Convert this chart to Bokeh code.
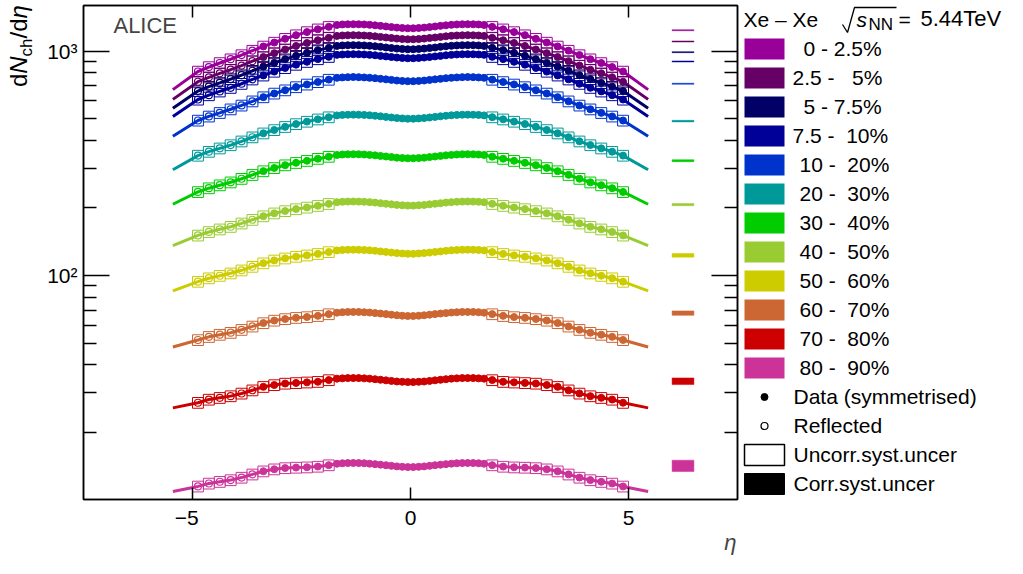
import numpy as np
from bokeh.plotting import figure
from bokeh.models import Range1d, FixedTicker, LinearAxis, LogAxis, Label, Title, CustomJSTickFormatter
from bokeh.layouts import row
from bokeh.core.properties import value
from bokeh.embed import file_html
from bokeh.resources import INLINE

FONT = "Liberation Sans"

# ---------------- data ----------------
centralities = ["0 - 2.5%", "2.5 -\u00a0\u00a0 5%", "5 - 7.5%", "7.5 -\u00a0 10%", "10 -\u00a0 20%",
                "20 -\u00a0 30%", "30 -\u00a0 40%", "40 -\u00a0 50%", "50 -\u00a0 60%", "60 -\u00a0 70%",
                "70 -\u00a0 80%", "80 -\u00a0 90%"]
colors = ["#990099", "#660066", "#000066", "#000099", "#0033CC", "#009999",
          "#00CC00", "#99CC33", "#CCCC00", "#CC6633", "#CC0000", "#CC3399"]

# positive-eta half; negative side is the symmetrised mirror
eta_mid = [0.0625, 0.1875, 0.3125, 0.4375, 0.5625, 0.6875, 0.8125, 0.9375,
           1.0625, 1.1875, 1.3125, 1.4375, 1.5625, 1.6875]
eta_fwd = [1.875, 2.125, 2.375, 2.625, 2.875, 3.125, 3.375, 3.625,
           3.875, 4.125, 4.375, 4.625, 4.875]
eta_fit_end = 5.45
eta_reflect_from = 3.5   # |eta| beyond this on the negative side is reflected
bin_half_width = 0.125

mid_vals = [
    [1265, 1269, 1274, 1281, 1289, 1297, 1304, 1311, 1316, 1318, 1319, 1318, 1316, 1309],
    [1130, 1133, 1138, 1145, 1151, 1158, 1165, 1171, 1175, 1177, 1179, 1177, 1175, 1170],
    [1020, 1023, 1027, 1033, 1039, 1046, 1052, 1057, 1061, 1063, 1064, 1063, 1061, 1056],
    [930, 933, 937, 942, 948, 953, 959, 963, 967, 969, 970, 969, 967, 963],
    [735, 737, 740, 745, 749, 753, 758, 761, 764, 766, 767, 766, 764, 761],
    [500, 501.5, 503.5, 506.5, 509.5, 512.5, 515.5, 518, 520, 521, 521.5, 521, 520, 517.5],
    [333, 334, 335.3, 337.3, 339.3, 341.3, 343.3, 345, 346.3, 347, 347.3, 347, 346.3, 344.7],
    [205, 205.6, 206.4, 207.7, 208.9, 210.1, 211.4, 212.4, 213.2, 213.6, 213.8, 213.6, 213.2, 212.2],
    [125, 125.4, 125.9, 126.6, 127.4, 128.1, 128.9, 129.5, 130, 130.3, 130.4, 130.3, 130, 129.4],
    [66, 66.2, 66.5, 66.9, 67.3, 67.7, 68.0, 68.4, 68.6, 68.8, 68.8, 68.8, 68.6, 68.3],
    [33.5, 33.6, 33.7, 33.9, 34.1, 34.3, 34.5, 34.7, 34.8, 34.9, 34.9, 34.9, 34.8, 34.7],
    [14.0, 14.04, 14.1, 14.18, 14.27, 14.35, 14.43, 14.5, 14.56, 14.59, 14.6, 14.59, 14.56, 14.49],
]
fwd_vals = [
    [1284, 1252, 1217, 1179, 1136, 1093, 1050, 1006, 961, 921, 886, 850, 812],
    [1147, 1119, 1088, 1055, 1018, 980, 942, 903, 863, 827, 797, 765, 731],
    [1035, 1011, 983, 954, 921, 887, 854, 818, 782, 751, 722, 695, 664],
    [944, 922, 897, 871, 842, 811, 780, 749, 716, 687, 662, 637, 609],
    [747, 729, 711, 692, 670, 648, 624, 598, 573, 551, 531, 512, 491],
    [508, 497, 485.5, 473.5, 460, 445.5, 430.5, 413.5, 396.5, 381.5, 369, 356.5, 342.5],
    [338.7, 331.7, 324.7, 318, 310.4, 301.7, 292, 281.1, 270.1, 260.4, 252.7, 245.1, 235.8],
    [208.7, 204.6, 201.1, 197.8, 193.9, 189.4, 183.9, 177.3, 170.8, 165.0, 160.7, 156.4, 150.9],
    [127.3, 124.9, 123, 121.4, 119.3, 116.8, 113.5, 109.5, 105.5, 102.3, 99.8, 97.3, 93.9],
    [67.3, 66.1, 65.3, 64.8, 64.0, 63.0, 61.4, 59.3, 57.3, 55.6, 54.5, 53.3, 51.6],
    [34.2, 33.6, 33.4, 33.2, 33.0, 32.5, 31.9, 30.8, 29.8, 29.0, 28.5, 28.0, 27.1],
    [14.28, 14.07, 13.97, 13.93, 13.86, 13.69, 13.41, 12.99, 12.57, 12.25, 12.04, 11.83, 11.48],
]
fit_end_vals = [674, 610, 557, 512, 418, 296, 207.8, 135.9, 85.5, 48.0, 25.7, 10.9]
uncorr_frac = [0.055] * 12
corr_center = [1240, 1105, 990, 900, 716, 488, 325, 207, 123, 68, 33.8, 14.2]
corr_frac = [0.005, 0.005, 0.005, 0.005, 0.005, 0.008, 0.01, 0.011, 0.018, 0.023, 0.034, 0.058]
corr_eta_lo, corr_eta_hi = 6.0, 6.5

y_major = [100, 1000]
y_minor = [20, 30, 40, 50, 60, 70, 80, 90, 200, 300, 400, 500, 600, 700, 800, 900]
x_major = [-5, 0, 5]

# ------------- layout (screenshot pixels) -------------
X0_PX, X_SCALE = 409.5, 43.667      # eta = 0 position, px per unit eta
Y3_PX, DEC_PX = 50.7, 224.33        # y of 10^3, px per decade
FRAME_TOP, FRAME_BOTTOM = 5, 499
FIG_H = 560
B_TOP = FRAME_TOP
B_BOTTOM = FIG_H - FRAME_BOTTOM
W_YT, W_MAIN, W_LG = 44, 697, 270
BASE_K = 0.4   # empirical baseline correction (fraction of font size) for svg text


def px_x(sx):
    return (sx - X0_PX) / X_SCALE


def px_y(sy):
    return 10 ** (3 + (Y3_PX - sy) / DEC_PX)


def bl(y, size):
    return y - BASE_K * size


def bare(fig):
    fig.grid.visible = False
    fig.outline_line_color = None
    fig.background_fill_color = "white"
    fig.border_fill_color = "white"


# ---- y-title figure (left strip) ----
yt = figure(width=W_YT, height=FIG_H, x_range=Range1d(0, W_YT), y_range=Range1d(FRAME_BOTTOM, FRAME_TOP),
            output_backend="svg", toolbar_location=None, min_border_left=0, min_border_right=0,
            min_border_top=B_TOP, min_border_bottom=B_BOTTOM, x_axis_location=None, y_axis_location=None)
bare(yt)
ytitle = [("d", "normal", 24, 0, 13.3), ("N", "italic", 24, 0, 17.3), ("ch", "normal", 17, 5, 18.0),
          ("/", "normal", 24, 0, 6.7), ("d", "normal", 24, 0, 13.3), ("\u03b7", "italic", 24, 0, 13.3)]
ys = 86.5
for txt, st, sz, dx, adv in ytitle:
    yt.text(x=[bl(28 + dx, sz)], y=[ys], text=[txt], angle=np.pi / 2, text_font=value(FONT),
            text_font_style=st, text_font_size=f"{sz}px", text_baseline="alphabetic", text_align="left")
    ys -= adv

# ---- main figure ----
p = figure(width=W_MAIN, height=FIG_H, x_range=Range1d(-7.5, 7.5),
           y_range=Range1d(px_y(FRAME_BOTTOM), px_y(FRAME_TOP)), y_axis_type="log",
           output_backend="svg", toolbar_location=None,
           min_border_left=82 - W_YT, min_border_right=W_YT + W_MAIN - 737,
           min_border_top=B_TOP, min_border_bottom=B_BOTTOM)
p.xgrid.visible = False
p.ygrid.visible = False
p.outline_line_color = "black"
p.outline_line_width = 1.5
p.background_fill_color = "white"
p.border_fill_color = "white"

ylab_fmt = CustomJSTickFormatter(code="""
if (Math.abs(tick - 100) < 1e-6) return '10\u00b2';
if (Math.abs(tick - 1000) < 1e-6) return '10\u00b3';
return '';
""")
xlab_fmt = CustomJSTickFormatter(code="""
if (tick < 0) return '\u2212' + Math.abs(tick) + '\u00a0\u00a0';
return String(tick);
""")
blank_fmt = CustomJSTickFormatter(code="return '';")


def style_axis(ax, major_in, minor_in, labels=True):
    ax.major_tick_in = major_in
    ax.major_tick_out = 0
    ax.minor_tick_in = minor_in
    ax.minor_tick_out = 0
    ax.axis_line_color = "black"
    ax.axis_line_width = 1.5
    ax.major_tick_line_width = 1.5
    ax.minor_tick_line_width = 1.5
    ax.major_tick_line_color = "black"
    ax.minor_tick_line_color = "black"
    if labels:
        ax.major_label_text_font = FONT
        ax.major_label_text_font_size = "21px"
        ax.major_label_text_color = "black"
    else:
        ax.major_label_text_font_size = "0px"
        ax.major_label_standoff = 0


yax = p.yaxis[0]
yax.ticker = FixedTicker(ticks=y_major, minor_ticks=y_minor)
yax.formatter = ylab_fmt
style_axis(yax, 26, 13)
yax.major_label_standoff = 6

xax = p.xaxis[0]
xax.ticker = FixedTicker(ticks=x_major, minor_ticks=[])
xax.formatter = xlab_fmt
style_axis(xax, 12, 0)
xax.major_label_standoff = 6

rax = LogAxis(ticker=FixedTicker(ticks=y_major, minor_ticks=y_minor), formatter=blank_fmt)
style_axis(rax, 26, 13, labels=False)
p.add_layout(rax, "right")

tax = LinearAxis(ticker=FixedTicker(ticks=x_major, minor_ticks=[]), formatter=blank_fmt)
style_axis(tax, 12, 0, labels=False)
p.add_layout(tax, "above")

p.add_layout(Title(text="\u03b7", align="right", text_font=FONT, text_font_style="italic",
                   text_font_size="22px", offset=1, standoff=-8), "below")

# ------------- data drawing -------------
for i in range(len(centralities)):
    col = colors[i]
    mv, fv, ev = mid_vals[i], fwd_vals[i], fit_end_vals[i]
    neg_fwd_x = [-e for e in eta_fwd[::-1]]
    neg_fwd_y = fv[::-1]
    neg_mid_x = [-e for e in eta_mid[::-1]]
    neg_mid_y = mv[::-1]

    # uncorrelated systematic boxes
    bx = neg_fwd_x + eta_fwd
    by = neg_fwd_y + fv
    f = uncorr_frac[i]
    p.quad(left=[x - bin_half_width for x in bx], right=[x + bin_half_width for x in bx],
           bottom=[y * (1 - f) for y in by], top=[y * (1 + f) for y in by],
           fill_color=None, line_color=col, line_width=1)

    # fit curve
    lx = [-eta_fit_end] + neg_fwd_x + neg_mid_x + eta_mid + eta_fwd + [eta_fit_end]
    ly = [ev] + neg_fwd_y + neg_mid_y + mv + fv + [ev]
    p.line(lx, ly, line_color=col, line_width=3)

    # symmetrised data (filled)
    fx = [x for x in neg_fwd_x if -x <= eta_reflect_from] + neg_mid_x + eta_mid + eta_fwd
    fy = [y for x, y in zip(neg_fwd_x, neg_fwd_y) if -x <= eta_reflect_from] + neg_mid_y + mv + fv
    p.scatter(fx, fy, marker="circle", size=7, fill_color=col, line_color=col)

    # reflected (open)
    rx = [x for x in neg_fwd_x if -x > eta_reflect_from]
    ry = [y for x, y in zip(neg_fwd_x, neg_fwd_y) if -x > eta_reflect_from]
    p.scatter(rx, ry, marker="circle", size=7, fill_color=None, line_color=col, line_width=1.2)

    # correlated systematic
    g = corr_frac[i]
    c = corr_center[i]
    p.quad(left=[corr_eta_lo], right=[corr_eta_hi], bottom=[c * (1 - g)], top=[c * (1 + g)],
           fill_color=col, line_color=col, line_width=0.5)

p.add_layout(Label(x=px_x(112), y=px_y(bl(33.3, 22)), text="ALICE", text_font=FONT,
                   text_font_size="22px", text_baseline="alphabetic", text_align="left"))

# ------------- legend figure (coordinates = screenshot pixels) -------------
x_lg0 = W_YT + W_MAIN
lg = figure(width=W_LG, height=FIG_H, x_range=Range1d(x_lg0, x_lg0 + W_LG),
            y_range=Range1d(FRAME_BOTTOM, FRAME_TOP),
            output_backend="svg", toolbar_location=None, min_border_left=0, min_border_right=0,
            min_border_top=B_TOP, min_border_bottom=B_BOTTOM, x_axis_location=None, y_axis_location=None)
bare(lg)

row_y = [48.5 + 29 * k for k in range(16)]
n = len(centralities)
lg.quad(left=[744] * n, right=[784] * n, top=[row_y[k] - 10.5 for k in range(n)],
        bottom=[row_y[k] + 10.5 for k in range(n)], fill_color=colors, line_color=None)
label_x = [803, 792, 803, 792, 799, 799, 799, 799, 799, 799, 799, 799]
lg.text(x=label_x, y=[bl(row_y[k] + 7.5, 21) for k in range(n)], text=centralities,
        text_font=value(FONT), text_font_size="21px", text_baseline="alphabetic", text_align="left")

other_labels = ["Data (symmetrised)", "Reflected", "Uncorr.syst.uncer", "Corr.syst.uncer"]
lg.text(x=[793] * 4, y=[bl(row_y[12 + k] + 7.5, 21) for k in range(4)], text=other_labels,
        text_font=value(FONT), text_font_size="21px", text_baseline="alphabetic", text_align="left")
lg.scatter([764], [row_y[12]], marker="circle", size=7, fill_color="black", line_color="black")
lg.scatter([764], [row_y[13]], marker="circle", size=7, fill_color=None, line_color="black", line_width=1.2)
lg.quad(left=[744], right=[784], top=[row_y[14] - 10.5], bottom=[row_y[14] + 10.5],
        fill_color=None, line_color="black", line_width=1.5)
lg.quad(left=[744], right=[784], top=[row_y[15] - 10.5], bottom=[row_y[15] + 10.5],
        fill_color="black", line_color="black")

# header
hb = 27
lg.text(x=[743], y=[bl(hb, 21)], text=["Xe \u2013 Xe"], text_font=value(FONT), text_font_size="21px",
        text_baseline="alphabetic", text_align="left")
lg.line(x=[842, 847, 854, 896], y=[hb - 3, hb + 5, hb - 20, hb - 20], line_color="black", line_width=1.3)
lg.text(x=[856], y=[bl(hb, 21)], text=["s"], text_font=value(FONT), text_font_style="italic",
        text_font_size="21px", text_baseline="alphabetic", text_align="left")
lg.text(x=[868], y=[bl(hb + 4, 17)], text=["NN"], text_font=value(FONT), text_font_size="17px",
        text_baseline="alphabetic", text_align="left")
lg.text(x=[898], y=[bl(hb, 21)], text=["="], text_font=value(FONT), text_font_size="21px",
        text_baseline="alphabetic", text_align="left")
lg.text(x=[920], y=[bl(hb, 22)], text=["5.44TeV"], text_font=value(FONT), text_font_size="22px",
        text_baseline="alphabetic", text_align="left")

layout = row(yt, p, lg)
open("out.html", "w").write(file_html(layout, INLINE))
